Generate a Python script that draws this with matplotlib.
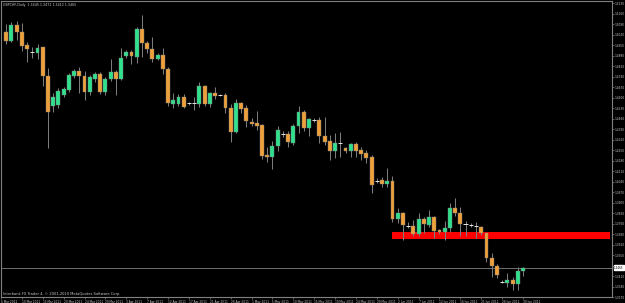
import matplotlib.pyplot as plt
import numpy as np

# GBPCHF daily candles (one bar per trading day incl. sundays)
opens = [1.5039, 1.4979, 1.5085, 1.5039, 1.4952, 1.4905, 1.4899, 1.4939, 1.4745, 1.4545,
         1.4552, 1.4619, 1.4652, 1.4745, 1.4779, 1.4745, 1.4639, 1.4725, 1.4759, 1.4639,
         1.4725, 1.4772, 1.4725, 1.4879, 1.4905, 1.4872, 1.5059, 1.4965, 1.4925, 1.4859,
         1.4885, 1.4792, 1.4559, 1.4559, 1.4605, 1.4565, 1.4565, 1.4559, 1.4679, 1.4559,
         1.4632, 1.4619, 1.4619, 1.4532, 1.4372, 1.4565, 1.4532, 1.4439, 1.4432, 1.4419,
         1.4219, 1.4205, 1.4279, 1.4359, 1.4359, 1.4299, 1.4412, 1.4505, 1.4399, 1.4452,
         1.4452, 1.4345, 1.4312, 1.4245, 1.4299, 1.4265, 1.4245, 1.4292, 1.4252, 1.4232,
         1.4205, 1.4045, 1.4052, 1.4025, 1.4045, 1.3792, 1.3832, 1.3745, 1.3745, 1.3692,
         1.3792, 1.3752, 1.3805, 1.3719, 1.3705, 1.3732, 1.3865, 1.3832, 1.3759, 1.3752,
         1.3745, 1.3739, 1.3699, 1.3532, 1.3479, 1.3372, 1.3365, 1.3385, 1.3359, 1.3445]
highs = [1.5092, 1.5105, 1.5112, 1.5099, 1.4972, 1.4939, 1.4959, 1.4939, 1.4799, 1.4632,
         1.4665, 1.4672, 1.4765, 1.4792, 1.4805, 1.4779, 1.4752, 1.4772, 1.4772, 1.4739,
         1.4859, 1.4785, 1.4932, 1.4919, 1.4919, 1.5072, 1.5152, 1.4979, 1.5005, 1.4899,
         1.4932, 1.4805, 1.4632, 1.4625, 1.4625, 1.4572, 1.4605, 1.4705, 1.4685, 1.4639,
         1.4672, 1.4625, 1.4632, 1.4559, 1.4592, 1.4572, 1.4552, 1.4465, 1.4512, 1.4425,
         1.4272, 1.4312, 1.4412, 1.4379, 1.4379, 1.4425, 1.4545, 1.4519, 1.4465, 1.4465,
         1.4472, 1.4472, 1.4352, 1.4365, 1.4372, 1.4272, 1.4299, 1.4305, 1.4272, 1.4252,
         1.4219, 1.4065, 1.4072, 1.4132, 1.4079, 1.3865, 1.3839, 1.3772, 1.3785, 1.3832,
         1.3805, 1.3852, 1.3812, 1.3725, 1.3779, 1.3899, 1.3932, 1.3872, 1.3779, 1.3765,
         1.3772, 1.3745, 1.3699, 1.3565, 1.3492, 1.3385, 1.3432, 1.3405, 1.3472, 1.3472]
lows = [1.4959, 1.4972, 1.4985, 1.4912, 1.4839, 1.4865, 1.4859, 1.4679, 1.4265, 1.4505,
        1.4532, 1.4605, 1.4639, 1.4732, 1.4632, 1.4585, 1.4619, 1.4705, 1.4625, 1.4619,
        1.4712, 1.4619, 1.4719, 1.4865, 1.4825, 1.4832, 1.4872, 1.4899, 1.4839, 1.4852,
        1.4759, 1.4545, 1.4532, 1.4545, 1.4532, 1.4552, 1.4519, 1.4539, 1.4545, 1.4539,
        1.4592, 1.4612, 1.4499, 1.4305, 1.4365, 1.4499, 1.4405, 1.4412, 1.4385, 1.4192,
        1.4172, 1.4125, 1.4245, 1.4339, 1.4272, 1.4285, 1.4365, 1.4379, 1.4345, 1.4439,
        1.4299, 1.4285, 1.4185, 1.4199, 1.4205, 1.4232, 1.4205, 1.4205, 1.4185, 1.4165,
        1.3965, 1.4032, 1.4005, 1.4005, 1.3772, 1.3765, 1.3652, 1.3732, 1.3679, 1.3679,
        1.3699, 1.3739, 1.3665, 1.3692, 1.3652, 1.3705, 1.3812, 1.3679, 1.3679, 1.3739,
        1.3665, 1.3685, 1.3505, 1.3405, 1.3399, 1.3365, 1.3339, 1.3319, 1.3319, 1.3412]
closes = [1.4979, 1.5085, 1.5039, 1.4945, 1.4925, 1.4905, 1.4932, 1.4745, 1.4505, 1.4605,
          1.4645, 1.4659, 1.4752, 1.4779, 1.4745, 1.4639, 1.4739, 1.4759, 1.4639, 1.4725,
          1.4772, 1.4725, 1.4865, 1.4905, 1.4879, 1.5059, 1.4965, 1.4925, 1.4859, 1.4885,
          1.4792, 1.4565, 1.4585, 1.4605, 1.4539, 1.4565, 1.4565, 1.4679, 1.4559, 1.4632,
          1.4612, 1.4619, 1.4532, 1.4372, 1.4565, 1.4525, 1.4445, 1.4425, 1.4412, 1.4212,
          1.4205, 1.4279, 1.4385, 1.4359, 1.4305, 1.4412, 1.4505, 1.4399, 1.4459, 1.4452,
          1.4345, 1.4305, 1.4245, 1.4299, 1.4299, 1.4245, 1.4292, 1.4245, 1.4225, 1.4199,
          1.4019, 1.4045, 1.4025, 1.4045, 1.3792, 1.3832, 1.3752, 1.3745, 1.3692, 1.3792,
          1.3759, 1.3805, 1.3712, 1.3705, 1.3732, 1.3865, 1.3832, 1.3759, 1.3759, 1.3752,
          1.3745, 1.3699, 1.3532, 1.3479, 1.3419, 1.3372, 1.3385, 1.3359, 1.3445, 1.3465]

# x axis date labels (every 4th bar, first one one bar before the first candle)
date_labels = ['6 Mar 2011', '10 Mar 2011', '15 Mar 2011', '20 Mar 2011', '24 Mar 2011',
               '29 Mar 2011', '3 Apr 2011', '7 Apr 2011', '12 Apr 2011', '17 Apr 2011',
               '21 Apr 2011', '26 Apr 2011', '1 May 2011', '5 May 2011', '10 May 2011',
               '15 May 2011', '19 May 2011', '24 May 2011', '29 May 2011', '2 Jun 2011',
               '7 Jun 2011', '12 Jun 2011', '16 Jun 2011', '21 Jun 2011', '26 Jun 2011',
               '30 Jun 2011']
price_ticks = np.round(np.arange(1.5230, 1.3260, -0.0070), 4)

# red support zone drawn on the chart
zone_start = 74
zone_low, zone_high = 1.3659, 1.3705

symbol = 'GBPCHF,Daily'
copyright_txt = 'Interbank FX Trader 4, \u00a9 2001-2010 MetaQuotes Software Corp.'

bull = '#2fe08c'
bear = '#f0a038'
grid_gray = '#808080'
txt_col = '#c8c8c8'

o = np.array(opens)
h = np.array(highs)
l = np.array(lows)
c = np.array(closes)
x = np.arange(len(o))

fig = plt.figure(figsize=(6.25, 3.03), dpi=100, facecolor='black')
ax = fig.add_axes([1 / 625, 6 / 303, 611 / 625, 296 / 303])
ax.set_facecolor('black')

# zone
ax.fill_between([zone_start - 0.1, 115.7], zone_low, zone_high, color='#ff0000', lw=0, zorder=1)

# wicks
ax.vlines(x, l, h, color=grid_gray, lw=0.7, zorder=2)

# bodies
up = c > o
down = c < o
flat = c == o
ax.bar(x[up], (c - o)[up], bottom=o[up], width=0.75, color=bull, edgecolor=grid_gray,
       linewidth=0.3, zorder=3)
ax.bar(x[down], (o - c)[down], bottom=c[down], width=0.75, color=bear, edgecolor=grid_gray,
       linewidth=0.3, zorder=3)
ax.hlines(c[flat], x[flat] - 0.4, x[flat] + 0.4, color='#e8e8e8', lw=0.7, zorder=3)

# last price line
ax.axhline(c[-1], color=grid_gray, lw=0.6, zorder=1)

ax.set_xlim(-0.96, 116.05)
ax.set_ylim(1.3272, 1.5245)

# the tick under the current price box is hidden by the box
ylabels = ['' if abs(p - c[-1]) < 0.0035 else '%.4f' % p for p in price_ticks]
ax.yaxis.tick_right()
ax.set_yticks(price_ticks)
ax.set_yticklabels(ylabels)
ax.tick_params(axis='y', colors=grid_gray, labelcolor=txt_col, labelsize=2.05,
               length=1.2, width=0.5, pad=0.8)

xt = np.arange(-1, -1 + 4 * len(date_labels), 4)
ax.set_xticks(xt)
ax.set_xticklabels(date_labels, ha='left')
ax.tick_params(axis='x', colors=grid_gray, labelcolor=txt_col, labelsize=2.1,
               length=1.5, width=0.5, pad=0.8)

for s in ax.spines.values():
    s.set_color(grid_gray)
    s.set_linewidth(0.8)

# current price box
ax.text(1.0035, c[-1], '%.4f' % c[-1], transform=ax.get_yaxis_transform(),
        fontsize=2.0, color='black', va='center', ha='left',
        bbox=dict(boxstyle='square,pad=0.1', fc='white', ec='white'))

ax.text(0.004, 0.992, '%s  %.4f %.4f %.4f %.4f' % (symbol, o[-1], h[-1], l[-1], c[-1]),
        transform=ax.transAxes, fontsize=2.3, color=txt_col, va='top', ha='left')
ax.text(0.003, 0.004, copyright_txt, transform=ax.transAxes, fontsize=2.6,
        color=txt_col, va='bottom', ha='left')

fig.savefig('out.png', dpi=100, facecolor='black')
